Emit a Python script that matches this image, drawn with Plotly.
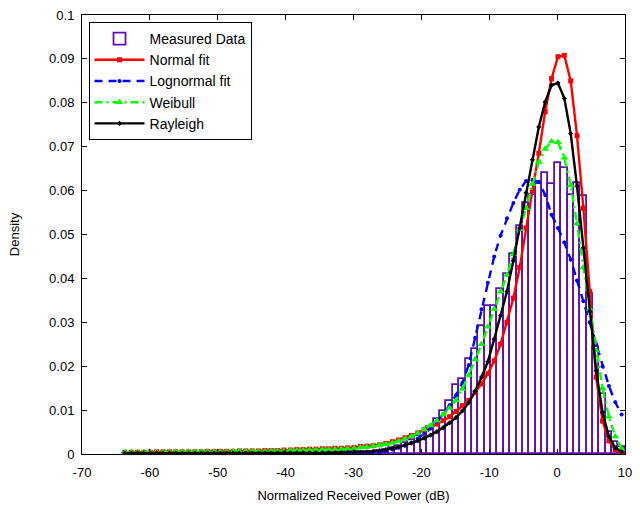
import plotly.graph_objects as go

# bin centers (dB)
x_centers = [-63.70, -62.76, -61.82, -60.88, -59.95, -59.01, -58.07, -57.13, -56.19, -55.25,
             -54.32, -53.38, -52.44, -51.50, -50.56, -49.62, -48.68, -47.75, -46.81, -45.87,
             -44.93, -43.99, -43.05, -42.11, -41.18, -40.24, -39.30, -38.36, -37.42, -36.48,
             -35.55, -34.61, -33.67, -32.73, -31.79, -30.85, -29.91, -28.98, -28.04, -27.10,
             -26.16, -25.22, -24.28, -23.35, -22.41, -21.47, -20.53, -19.59, -18.65, -17.71,
             -16.78, -15.84, -14.90, -13.96, -13.02, -12.08, -11.14, -10.21, -9.27, -8.33,
             -7.39, -6.45, -5.51, -4.58, -3.64, -2.70, -1.76, -0.82, 0.12, 1.06,
             2.00, 2.93, 3.87, 4.81, 5.75, 6.69, 7.63, 8.57, 9.50]
bin_width = 0.9385

measured = [0, 0, 0, 0, 0, 0, 0, 0, 0, 0,
            0, 0, 0, 0, 0, 0, 0, 0, 0, 0,
            0, 0, 0, 0, 0, 0, 0, 0, 0, 0,
            0.0001, 0.0001, 0.0002, 0.0002, 0.0003, 0.0003, 0.0004, 0.0004, 0.0005, 0.0005,
            0.0006, 0.0009, 0.0013, 0.0018, 0.0024, 0.0032, 0.0040, 0.0050, 0.0062, 0.0080,
            0.0098, 0.0120, 0.0158, 0.0170, 0.0216, 0.0240, 0.0292, 0.0337, 0.0337, 0.0375,
            0.0410, 0.0455, 0.0519, 0.0572, 0.0590, 0.0614, 0.0639, 0.0614, 0.0663, 0.0652,
            0.0591, 0.0617, 0.0587, 0.0364, 0.0243, 0.0136, 0.0050, 0.0027, 0.0017]

normal_fit = [0.0004, 0.0004, 0.0004, 0.0004, 0.0004, 0.0005, 0.0005, 0.0005, 0.0005, 0.0005,
              0.0005, 0.0005, 0.0005, 0.0006, 0.0006, 0.0006, 0.0006, 0.0006, 0.0007, 0.0007,
              0.0007, 0.0007, 0.0008, 0.0008, 0.0008, 0.0009, 0.0009, 0.0010, 0.0010, 0.0011,
              0.0011, 0.0012, 0.0012, 0.0013, 0.0013, 0.0014, 0.0015, 0.0017, 0.0018, 0.0019,
              0.0021, 0.0024, 0.0028, 0.0032, 0.0037, 0.0042, 0.0048, 0.0055, 0.0061, 0.0068,
              0.0076, 0.0085, 0.0097, 0.0110, 0.0122, 0.0140, 0.0160, 0.0183, 0.0212, 0.0250,
              0.0300, 0.0355, 0.0425, 0.0515, 0.0600, 0.0685, 0.0780, 0.0855, 0.0905, 0.0908,
              0.0850, 0.0725, 0.0560, 0.0370, 0.0175, 0.0075, 0.0030, 0.0010, 0.0003]

lognormal_fit = [0, 0, 0, 0, 0, 0, 0, 0, 0, 0,
                 0, 0, 0, 0, 0, 0, 0, 0, 0, 0,
                 0, 0, 0, 0, 0, 0, 0, 0, 0, 0,
                 0, 0, 0, 0, 0, 0.0001, 0.0001, 0.0001, 0.0002, 0.0003,
                 0.0004, 0.0006, 0.0010, 0.0014, 0.0019, 0.0026, 0.0035, 0.0046, 0.0058, 0.0073,
                 0.0091, 0.0111, 0.0134, 0.0162, 0.0203, 0.0265, 0.0330, 0.0390, 0.0450, 0.0498,
                 0.0537, 0.0572, 0.0602, 0.0622, 0.0624, 0.0620, 0.0590, 0.0545, 0.0515, 0.0482,
                 0.0443, 0.0395, 0.0348, 0.0300, 0.0250, 0.0200, 0.0155, 0.0118, 0.0090]

weibull_fit = [0.0004, 0.0004, 0.0004, 0.0004, 0.0004, 0.0004, 0.0004, 0.0004, 0.0005, 0.0005,
               0.0005, 0.0005, 0.0005, 0.0005, 0.0005, 0.0005, 0.0005, 0.0006, 0.0006, 0.0006,
               0.0006, 0.0006, 0.0006, 0.0007, 0.0007, 0.0007, 0.0008, 0.0008, 0.0008, 0.0009,
               0.0009, 0.0010, 0.0010, 0.0011, 0.0011, 0.0012, 0.0013, 0.0015, 0.0016, 0.0018,
               0.0020, 0.0022, 0.0025, 0.0029, 0.0034, 0.0040, 0.0047, 0.0056, 0.0065, 0.0076,
               0.0090, 0.0105, 0.0122, 0.0148, 0.0180, 0.0215, 0.0250, 0.0290, 0.0330, 0.0370,
               0.0408, 0.0455, 0.0512, 0.0560, 0.0615, 0.0665, 0.0695, 0.0712, 0.0710, 0.0675,
               0.0612, 0.0525, 0.0425, 0.0330, 0.0235, 0.0150, 0.0085, 0.0040, 0.0012]

rayleigh_fit = [0.0002, 0.0002, 0.0002, 0.0002, 0.0002, 0.0002, 0.0002, 0.0002, 0.0002, 0.0002,
                0.0002, 0.0002, 0.0002, 0.0002, 0.0002, 0.0002, 0.0002, 0.0002, 0.0002, 0.0002,
                0.0002, 0.0002, 0.0002, 0.0002, 0.0003, 0.0003, 0.0003, 0.0003, 0.0003, 0.0003,
                0.0003, 0.0003, 0.0003, 0.0003, 0.0004, 0.0004, 0.0004, 0.0004, 0.0005, 0.0006,
                0.0008, 0.0010, 0.0013, 0.0016, 0.0020, 0.0025, 0.0030, 0.0036, 0.0043, 0.0051,
                0.0060, 0.0071, 0.0083, 0.0098, 0.0117, 0.0143, 0.0175, 0.0210, 0.0262, 0.0315,
                0.0370, 0.0440, 0.0515, 0.0595, 0.0670, 0.0745, 0.0802, 0.0840, 0.0845, 0.0810,
                0.0730, 0.0610, 0.0470, 0.0325, 0.0190, 0.0095, 0.0040, 0.0014, 0.0005]

x_ticks = [-70, -60, -50, -40, -30, -20, -10, 0, 10]
x_tick_text = ["-70", "-60", "-50", "-40", "-30", "-20", "-10", "0", "10"]
y_ticks = [0, 0.01, 0.02, 0.03, 0.04, 0.05, 0.06, 0.07, 0.08, 0.09, 0.1]
y_tick_text = ["0", "0.01", "0.02", "0.03", "0.04", "0.05", "0.06", "0.07", "0.08", "0.09", "0.1"]

PURPLE = "rgb(96,16,176)"
FONT = "Liberation Sans, Arial, Helvetica, sans-serif"

fig = go.Figure()
fig.add_trace(go.Bar(
    x=x_centers, y=measured, width=bin_width, name="Measured Data",
    marker=dict(color="white", line=dict(color=PURPLE, width=1.8)),
))
fig.add_trace(go.Scatter(
    x=x_centers, y=normal_fit, name="Normal fit", mode="lines+markers",
    line=dict(color="rgb(255,0,0)", width=2.4),
    marker=dict(symbol="square", size=5, color="rgb(255,0,0)"),
))
fig.add_trace(go.Scatter(
    x=x_centers, y=lognormal_fit, name="Lognormal fit", mode="lines+markers",
    line=dict(color="rgb(0,0,255)", width=2.4, dash="8px,6px"),
    marker=dict(symbol="circle", size=4, color="rgb(0,0,255)"),
))
fig.add_trace(go.Scatter(
    x=x_centers, y=weibull_fit, name="Weibull", mode="lines+markers",
    line=dict(color="rgb(0,255,0)", width=2.4, dash="8px,4px,2px,4px"),
    marker=dict(symbol="triangle-up", size=7, color="rgb(0,255,0)"),
))
fig.add_trace(go.Scatter(
    x=x_centers, y=rayleigh_fit, name="Rayleigh", mode="lines+markers",
    line=dict(color="black", width=2.4),
    marker=dict(symbol="diamond", size=4, color="black"),
))

axis_common = dict(
    showline=True, linecolor="black", linewidth=1, mirror="ticks",
    ticks="inside", ticklen=5, tickcolor="black", tickwidth=1,
    showgrid=False, zeroline=False,
    tickfont=dict(family=FONT, size=13, color="black"),
)

fig.update_layout(
    width=640, height=509,
    margin=dict(l=82, r=8, t=15, b=54),
    paper_bgcolor="white", plot_bgcolor="white",
    font=dict(family=FONT, size=13, color="black"),
    bargap=0,
    showlegend=True,
    legend=dict(
        x=0.012, y=0.984, xanchor="left", yanchor="top",
        bgcolor="white", bordercolor="black", borderwidth=1,
        font=dict(family=FONT, size=14, color="black"),
        itemwidth=50, tracegroupgap=0, traceorder="normal",
    ),
    xaxis=dict(range=[-70, 10], tickvals=x_ticks, ticktext=x_tick_text,
               ticklabelstandoff=6,
               title=dict(text="Normalized Received Power (dB)", font=dict(family=FONT, size=13), standoff=12),
               **axis_common),
    yaxis=dict(range=[0, 0.1], tickvals=y_ticks, ticktext=y_tick_text,
               ticklabelstandoff=4,
               title=dict(text="Density", font=dict(family=FONT, size=13), standoff=26),
               **axis_common),
)

fig.write_html("out.html")
